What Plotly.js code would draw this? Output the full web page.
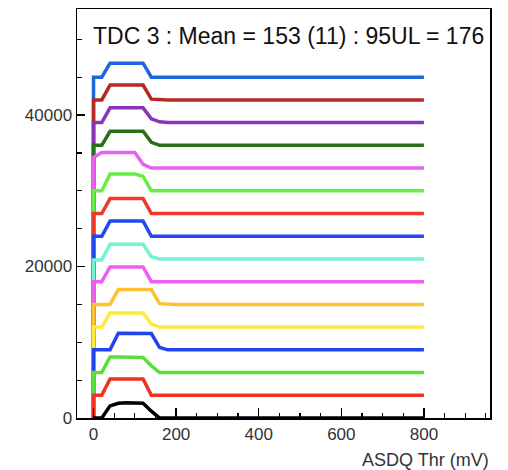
<!DOCTYPE html>
<html>
<head>
<meta charset="utf-8">
<script src="https://cdn.plot.ly/plotly-3.0.1.min.js"></script>
<style>html,body{margin:0;padding:0;background:#fff;}#chart{width:508px;height:470px;}</style>
</head>
<body>
<div id="chart"></div>
<script>
// Threshold scan points (mV)
const thresholds = [0, 20, 40, 60, 80, 100, 120, 140, 160, 180, 200, 800];

// Per-channel counts above each stacked baseline (bottom channel first)
const ch00 = [0, 0, 1600, 1950, 2000, 2000, 1950, 900, 0, 0, 0, 0];
const ch01 = [0, 0, 2150, 2150, 2150, 2150, 2150, 0, 0, 0, 0, 0];
const ch02 = [0, 0, 2050, 2050, 2050, 2050, 2000, 900, 0, 0, 0, 0];
const ch03 = [0, 0, 0, 2200, 2200, 2200, 2200, 2150, 300, 0, 0, 0];
const ch04 = [0, 0, 1850, 1850, 1850, 1850, 1850, 400, 0, 0, 0, 0];
const ch05 = [0, 0, 0, 1950, 1950, 1950, 1950, 1950, 100, 0, 0, 0];
const ch06 = [0, 0, 1950, 1950, 1950, 1950, 1950, 0, 0, 0, 0, 0];
const ch07 = [-150, -150, 1950, 1950, 1950, 1950, 1950, 300, 0, 0, 0, 0];
const ch08 = [0, 0, 2000, 2000, 2000, 2000, 2000, 0, 0, 0, 0, 0];
const ch09 = [0, 0, 1970, 1970, 1970, 1970, 1970, 0, 0, 0, 0, 0];
const ch10 = [0, 0, 2200, 2200, 2200, 2200, 1900, 0, 0, 0, 0, 0];
const ch11 = [1400, 2050, 2050, 2050, 2050, 2050, 500, 0, 0, 0, 0, 0];
const ch12 = [0, 0, 1850, 1850, 1850, 1850, 1850, 400, 0, 0, 0, 0];
const ch13 = [0, 0, 1950, 1950, 1950, 1950, 1950, 500, 100, 0, 0, 0];
const ch14 = [0, 0, 1950, 1950, 1950, 1950, 1950, 100, 0, 0, 0, 0];
const ch15 = [0, 0, 1850, 1850, 1850, 1850, 1850, 0, 0, 0, 0, 0];

const channels = [ch00, ch01, ch02, ch03, ch04, ch05, ch06, ch07,
                  ch08, ch09, ch10, ch11, ch12, ch13, ch14, ch15];

const lineColors = ['#000000', '#ee3322', '#5cdd3a', '#2244ee',
                    '#fbeb3a', '#fdc232', '#ee5ff0', '#74f2d4',
                    '#2249ee', '#ee3a2c', '#66ee44', '#e862f0',
                    '#2a6e1c', '#8a35b8', '#b52a22', '#1e66dd'];

const stackStep = 3000;
const xTicks = [0, 200, 400, 600, 800];
const yTicks = [0, 20000, 40000];
const yTickText = ['0', '20000', '40000'];

const traces = channels.map((vals, i) => ({
  type: 'scatter',
  mode: 'lines',
  x: [thresholds[0]].concat(thresholds),
  y: [0].concat(vals.map(v => v + i * stackStep)),
  line: {color: lineColors[i], width: 3.5},
  hoverinfo: 'skip',
  showlegend: false
})).reverse();

const font = 'Liberation Sans, Arial, Helvetica, sans-serif';

const layout = {
  width: 508, height: 470,
  margin: {l: 77, r: 18, t: 9, b: 52},
  paper_bgcolor: '#ffffff', plot_bgcolor: '#ffffff',
  showlegend: false,
  xaxis: {
    range: [-40, 960],
    tickvals: xTicks,
    ticktext: xTicks.map(String),
    ticks: 'inside', ticklen: 10, tickwidth: 1.5, tickcolor: '#000',
    minor: {dtick: 50, tick0: 0, ticks: 'inside', ticklen: 5, tickwidth: 1.2, tickcolor: '#000', showgrid: false},
    showline: true, linecolor: '#000', linewidth: 1.5, mirror: true,
    showgrid: false, zeroline: false,
    tickfont: {family: font, size: 17, color: '#333'}
  },
  yaxis: {
    range: [0, 54000],
    tickvals: yTicks,
    ticktext: yTickText,
    ticks: 'inside', ticklen: 8, tickwidth: 1.5, tickcolor: '#000',
    minor: {dtick: 5000, tick0: 0, ticks: 'inside', ticklen: 5, tickwidth: 1.2, tickcolor: '#000', showgrid: false},
    showline: true, linecolor: '#000', linewidth: 1.5, mirror: true,
    showgrid: false, zeroline: false,
    tickfont: {family: font, size: 17, color: '#333'}
  },
  annotations: [
    {
      text: 'TDC 3 : Mean = 153 (11) : 95UL = 176',
      xref: 'paper', yref: 'paper', x: 0.033, y: 0.933,
      xanchor: 'left', yanchor: 'middle', showarrow: false,
      font: {family: font, size: 23, color: '#111'}
    },
    {
      text: 'ASDQ Thr (mV)',
      xref: 'paper', yref: 'paper', x: 1.003, y: -0.1027,
      xanchor: 'right', yanchor: 'middle', showarrow: false,
      font: {family: font, size: 18, color: '#333'}
    }
  ]
};

Plotly.newPlot('chart', traces, layout, {staticPlot: true, displayModeBar: false});
</script>
</body>
</html>
